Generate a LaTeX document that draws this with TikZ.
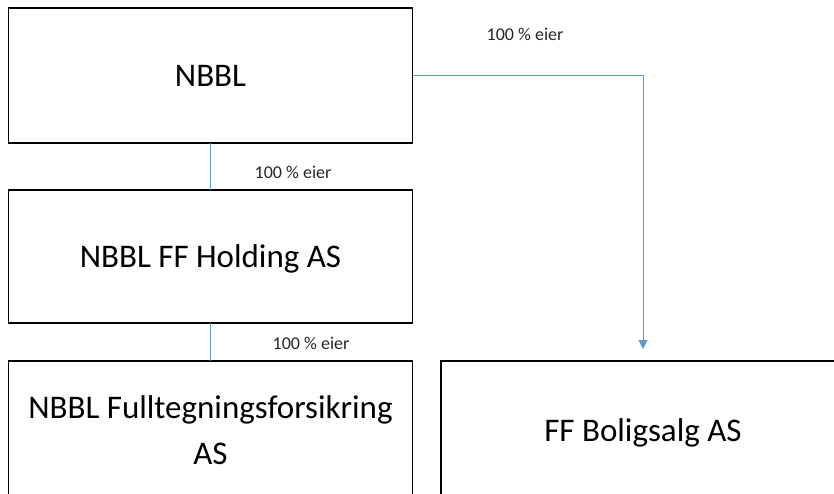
\documentclass[tikz,border=0pt]{standalone}
\usepackage{fontspec}
\setmainfont{Carlito}
\usetikzlibrary{positioning, arrows.meta}
\definecolor{linjeblaa}{RGB}{91,155,213}

\begin{document}
\begin{tikzpicture}[bx/.style={draw, line width=1.8pt, outer sep=0pt, inner sep=0pt, minimum width=404pt, align=center, font=\fontsize{33}{46}\selectfont}, lbl/.style={font=\fontsize{18}{22}\selectfont, text=black!85}, ln/.style={draw=linjeblaa, line width=0.9pt}]
		\useasboundingbox (0pt,0pt) rectangle (834pt,-493pt);
		\clip (0pt,0pt) rectangle (834pt,-493pt);

		\node[bx, minimum height=135pt] (nbbl) at (210.5pt,-75.5pt) {NBBL};
		\node[bx, minimum height=133pt, text depth=0pt, below=47pt of nbbl] (holding) {NBBL FF Holding AS};
		\node[bx, minimum height=138pt, below=38pt of holding] (fulltegning) {NBBL Fulltegningsforsikring\\AS};
		\node[bx, minimum height=138pt, text depth=0pt, right=28.5pt of fulltegning] (boligsalg) {FF Boligsalg AS};
		\coordinate[above=12pt of boligsalg] (pil);

		\node[lbl] (eier1) at (525pt,-34pt) {100 \% eier};
		\node[lbl] (eier2) at (293pt,-172pt) {100 \% eier};
		\node[lbl] (eier3) at (311pt,-343pt) {100 \% eier};

		\path[ln] (nbbl) edge (holding);
		\path[ln] (holding) edge (fulltegning);
		\draw[ln, -{Triangle[width=9pt, length=9pt]}] (nbbl) -| (pil);
	\end{tikzpicture}
\end{document}
